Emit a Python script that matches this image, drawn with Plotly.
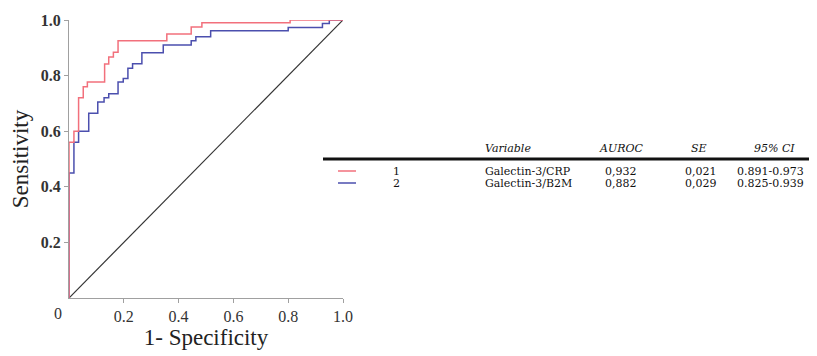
import plotly.graph_objects as go

# ROC curve 1: Galectin-3/CRP (step points, 1-specificity, sensitivity)
fpr_crp = [0.0, 0.0, 0.018, 0.018, 0.035, 0.035, 0.052, 0.052, 0.067, 0.067, 0.13, 0.13,
           0.145, 0.145, 0.162, 0.162, 0.179, 0.179, 0.357, 0.357, 0.446, 0.446, 0.485, 0.485,
           0.807, 0.807, 1.0]
sens_crp = [0.0, 0.56, 0.56, 0.60, 0.60, 0.72, 0.72, 0.76, 0.76, 0.777, 0.777, 0.842,
            0.842, 0.867, 0.867, 0.884, 0.884, 0.925, 0.925, 0.95, 0.95, 0.975, 0.975, 0.99,
            0.99, 1.0, 1.0]

# ROC curve 2: Galectin-3/B2M
fpr_b2m = [0.0, 0.0, 0.018, 0.018, 0.035, 0.035, 0.072, 0.072, 0.105, 0.105, 0.128, 0.128,
           0.145, 0.145, 0.179, 0.179, 0.198, 0.198, 0.215, 0.215, 0.232, 0.232, 0.266, 0.266,
           0.344, 0.344, 0.446, 0.446, 0.463, 0.463, 0.517, 0.517, 0.80, 0.80, 0.925, 0.925,
           0.95, 0.95, 1.0]
sens_b2m = [0.0, 0.45, 0.45, 0.56, 0.56, 0.60, 0.60, 0.665, 0.665, 0.705, 0.705, 0.72,
            0.72, 0.735, 0.735, 0.777, 0.777, 0.79, 0.79, 0.826, 0.826, 0.843, 0.843, 0.882,
            0.882, 0.91, 0.91, 0.925, 0.925, 0.94, 0.94, 0.961, 0.961, 0.973, 0.973, 0.987,
            0.987, 1.0, 1.0]

ref_x = [0.0, 1.0]
ref_y = [0.0, 1.0]

tick_vals = [0.2, 0.4, 0.6, 0.8, 1.0]
tick_text = ["0.2", "0.4", "0.6", "0.8", "1.0"]

# Table
table_headers = ["Variable", "AUROC", "SE", "95% CI"]
row_ids = ["1", "2"]
variables = ["Galectin-3/CRP", "Galectin-3/B2M"]
auroc = ["0,932", "0,882"]
se = ["0,021", "0,029"]
ci = ["0.891-0.973", "0.825-0.939"]
colors = ["#f2707c", "#4b4fae"]

FONT = "Liberation Serif"
TFONT = "DejaVu Serif"
WIN_W, WIN_H = 817, 356
OFF = 8  # default page body margin
W, H = WIN_W - OFF, WIN_H - OFF
L, R, T, B = 69, 343, 20, 298  # plot area pixel bounds (window coords)

def px(x):
    return (x - L) / (R - L)

def py(y):
    return (B - y) / (B - T)

fig = go.Figure()
fig.add_trace(go.Scatter(x=ref_x, y=ref_y, mode="lines",
                         line=dict(color="#333333", width=1.2), showlegend=False, hoverinfo="skip"))
fig.add_trace(go.Scatter(x=fpr_b2m, y=sens_b2m, mode="lines",
                         line=dict(color=colors[1], width=1.5), showlegend=False))
fig.add_trace(go.Scatter(x=fpr_crp, y=sens_crp, mode="lines",
                         line=dict(color=colors[0], width=1.5), showlegend=False))

fig.update_layout(
    width=W, height=H,
    margin=dict(l=L - OFF, r=WIN_W - R, t=T - OFF, b=WIN_H - B, pad=0, autoexpand=False),
    paper_bgcolor="white", plot_bgcolor="white",
    font=dict(family=FONT, color="#222222"),
    xaxis=dict(range=[0, 1], tickvals=tick_vals, ticktext=tick_text, automargin=False,
               showgrid=False, zeroline=False, showline=True, linecolor="#a0a0a0", linewidth=1.2,
               ticks="outside", ticklen=4, tickcolor="#a0a0a0",
               tickfont=dict(family=FONT, size=16, color="#333333"),
               title=dict(text="1- Specificity", font=dict(family=FONT, size=23, color="#222222"),
                          standoff=3)),
    yaxis=dict(range=[0, 1], tickvals=tick_vals, ticktext=["<b>%s</b>" % t for t in tick_text],
               automargin=False,
               showgrid=False, zeroline=False, showline=True, linecolor="#a0a0a0", linewidth=1.2,
               ticks="outside", ticklen=4, tickcolor="#a0a0a0",
               tickfont=dict(family=FONT, size=16, color="#333333"),
               title=dict(text="Sensitivity", font=dict(family=FONT, size=23, color="#222222"),
                          standoff=5)),
)

ann = []
ann.append(dict(text="0", x=px(58), y=py(313), xref="paper", yref="paper", showarrow=False,
                font=dict(family=FONT, size=16, color="#333333"), xanchor="center", yanchor="middle"))

TF = 11
# table headers
hdr_x = [483, 621, 699, 774]
hdr_anchor = ["left", "center", "center", "center"]
for h, xx, a in zip(table_headers, hdr_x, hdr_anchor):
    ann.append(dict(text="<i>%s</i>" % h, x=px(xx), y=py(148), xref="paper", yref="paper",
                    showarrow=False, xanchor=a, yanchor="middle",
                    font=dict(family=TFONT, size=TF, color="#111111")))

row_y = [171, 183]
for i in range(2):
    yy = py(row_y[i])
    fig.add_shape(type="line", xref="paper", yref="paper", x0=px(338), x1=px(356), y0=yy, y1=yy,
                  line=dict(color=colors[i], width=1.5))
    for txt, xx, a in [(row_ids[i], 396, "center"), (variables[i], 483, "left"),
                       (auroc[i], 621, "center"), (se[i], 701, "center"), (ci[i], 806, "right")]:
        ann.append(dict(text=txt, x=px(xx), y=yy, xref="paper", yref="paper", showarrow=False,
                        xanchor=a, yanchor="middle", font=dict(family=TFONT, size=TF, color="#111111")))

fig.add_shape(type="line", xref="paper", yref="paper", x0=px(323), x1=px(830), y0=py(159), y1=py(159),
              line=dict(color="#111111", width=3))

fig.update_layout(annotations=ann)
fig.write_html("out.html")
